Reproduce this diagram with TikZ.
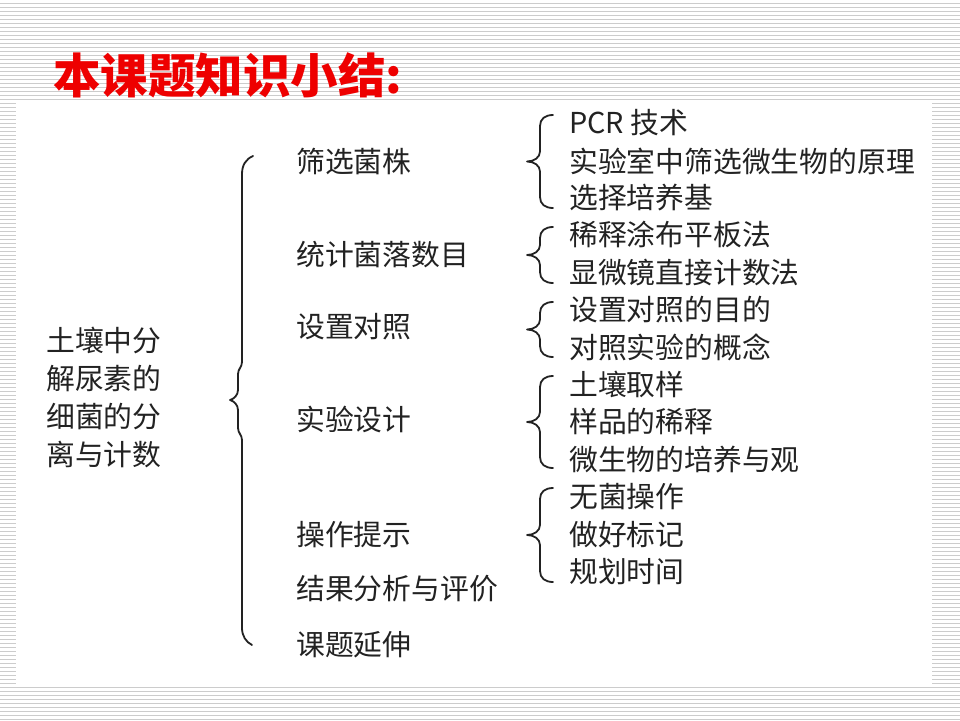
\documentclass[tikz,border=0pt]{standalone}
\usepackage{fontspec}
\usepackage{xcolor}
\usepackage{tikz}
\usetikzlibrary{positioning, calc}
\newfontfamily\cjk{Noto Sans CJK SC}

\definecolor{inkgray}{HTML}{222222}
\definecolor{titlered}{HTML}{EE0000}
\definecolor{stripegray}{HTML}{CCCCCC}

% curly brace opening to the right: x of the stem, top y, bottom y
\newcommand{\sidebrace}[3]{%
  \pgfmathsetmacro{\bmid}{(#2+#3)/2}
  \draw[brace line] ({#1+13},#2) .. controls ({#1+5},#2) and (#1,{#2+4}) .. (#1,{#2+11})
    -- (#1,{\bmid-10}) .. controls (#1,{\bmid-4}) and ({#1-6},\bmid) .. ({#1-13},\bmid)
    .. controls ({#1-6},\bmid) and (#1,{\bmid+4}) .. (#1,{\bmid+10})
    -- (#1,{#3-11}) .. controls (#1,{#3-4}) and ({#1+5},#3) .. ({#1+13},#3);
}

\begin{document}
\begin{tikzpicture}[
      x=1pt, y=-1pt,
      stripe/.style={stripegray, line width=1.1pt},
      brace line/.style={inkgray, line width=1.8pt, line cap=round, line join=round},
      every node/.style={inner sep=0pt, anchor=west, text=inkgray, yshift=-7pt,
        font=\cjk\fontsize{28.8}{30}\selectfont, text height=0.8em, text depth=0.1em}
    ]
      \useasboundingbox (0,0) rectangle (960,720);

      % striped slide background
      \fill[white] (0,0) rectangle (960,720);
      \foreach \k in {0,...,179}
        \draw[stripe] (0,{3.5+4*\k}) -- (960,{3.5+4*\k});
      \fill[white] (16,102) rectangle (932,686);

      \node[text=titlered, yshift=-5pt, font=\cjk\bfseries\fontsize{47.5}{50}\selectfont] (title) at (53,78) {本课题知识小结:};

      % topic on the left
      \node[align=left] (topic) at (46,455) {土壤中分\\[8pt]解尿素的\\[8pt]细菌的分\\[8pt]离与计数};

      % big brace
      \draw[brace line] (253,156) .. controls (246,159) and (242,165) .. (242,174)
        -- (242,362) .. controls (242,367) and (238,369) .. (238,374)
        -- (238,390) .. controls (238,395) and (234,399) .. (230,400)
        .. controls (234,401) and (238,405) .. (238,410)
        -- (238,428) .. controls (238,433) and (242,435) .. (242,440)
        -- (242,628) .. controls (242,636) and (246,642) .. (252,645);

      % steps
      \node (s1) at (296,162) {筛选菌株};
      \node (s2) at (296,255) {统计菌落数目};
      \node (s3) at (296,327) {设置对照};
      \node (s4) at (296,420) {实验设计};
      \node (s5) at (296,535) {操作提示};
      \node (s6) at (296,589) {结果分析与评价};
      \node (s7) at (296,645) {课题延伸};

      % details
      \sidebrace{540}{115}{208}
      \node (a1) at (569,123) {PCR 技术};
      \node (a2) at (569,162) {实验室中筛选微生物的原理};
      \node (a3) at (569,198) {选择培养基};

      \sidebrace{540}{227}{283}
      \node (b1) at (569,235) {稀释涂布平板法};
      \node (b2) at (569,273) {显微镜直接计数法};

      \sidebrace{540}{302}{357}
      \node (c1) at (569,310) {设置对照的目的};
      \node (c2) at (569,348) {对照实验的概念};

      \sidebrace{540}{376}{468}
      \node (d1) at (569,385) {土壤取样};
      \node (d2) at (569,422) {样品的稀释};
      \node (d3) at (569,460) {微生物的培养与观};

      \sidebrace{540}{488}{582}
      \node (e1) at (569,497) {无菌操作};
      \node (e2) at (569,535) {做好标记};
      \node (e3) at (569,572) {规划时间};
    \end{tikzpicture}
\end{document}
